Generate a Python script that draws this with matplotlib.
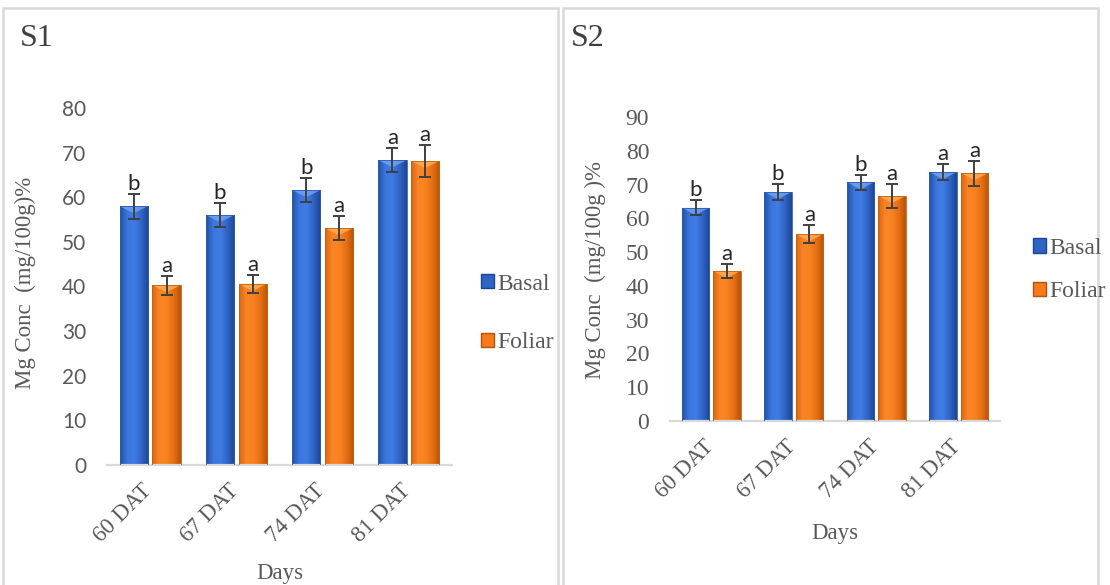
import numpy as np
import matplotlib
matplotlib.use("Agg")
import matplotlib.pyplot as plt
from matplotlib.patches import Rectangle, Patch, Polygon
from matplotlib.colors import LinearSegmentedColormap

# ---------------- data ----------------
categories = ["60 DAT", "67 DAT", "74 DAT", "81 DAT"]
series_names = ["Basal", "Foliar"]

s1_basal = [58.0, 56.0, 61.6, 68.3]
s1_foliar = [40.3, 40.6, 53.1, 68.1]
s1_basal_err = [2.8, 2.7, 2.7, 2.7]
s1_foliar_err = [2.1, 2.0, 2.6, 3.5]
s1_basal_letters = ["b", "b", "b", "a"]
s1_foliar_letters = ["a", "a", "a", "a"]
s1_yticks = [0, 10, 20, 30, 40, 50, 60, 70, 80]

s2_basal = [63.1, 67.8, 70.7, 73.7]
s2_foliar = [44.4, 55.3, 66.6, 73.4]
s2_basal_err = [2.2, 2.3, 2.2, 2.3]
s2_foliar_err = [2.2, 2.7, 3.5, 3.7]
s2_basal_letters = ["b", "b", "b", "a"]
s2_foliar_letters = ["a", "a", "a", "a"]
s2_yticks = [0, 10, 20, 30, 40, 50, 60, 70, 80, 90]

SERIF = "Liberation Serif"
SANS = "Lato"
GREY = "#595959"

blue_cmap = LinearSegmentedColormap.from_list(
    "b", ["#23509f", "#3a76de", "#3f7ce4", "#2f63c4", "#1d4590"])
orange_cmap = LinearSegmentedColormap.from_list(
    "o", ["#d9650f", "#fb8526", "#f98220", "#e56f12", "#b4520b"])

W, H = 1110, 585
fig = plt.figure(figsize=(W / 100, H / 100), dpi=100)


def frame(x0, y0, x1, y1):
    fig.patches.append(Rectangle((x0 / W, 1 - y1 / H), (x1 - x0) / W, (y1 - y0) / H,
                                 transform=fig.transFigure, fill=False,
                                 edgecolor="#d9d9d9", linewidth=1.8))


frame(3, 8, 558, 592)
frame(563, 8, 1098, 592)


def style_bars(ax, bars, cmap, bevel_color, ax_h_px, yrange):
    grad = np.linspace(0, 1, 256).reshape(1, -1)
    depth = 7.0 * yrange / ax_h_px  # 7 px in data units
    for b in bars:
        x, y = b.get_x(), b.get_y()
        w, h = b.get_width(), b.get_height()
        im = ax.imshow(grad, cmap=cmap, aspect="auto",
                       extent=(x, x + w, y, y + h), zorder=2,
                       interpolation="bicubic")
        im.set_clip_path(b)
        b.set_facecolor("none")
        b.set_zorder(3)
        top = y + h
        ax.add_patch(Polygon([(x, top), (x + w, top), (x + w / 2, top - depth)],
                             closed=True, facecolor=bevel_color,
                             edgecolor="none", alpha=0.75, zorder=2.5))


def draw_panel(ax, ax_h_px, basal, foliar, berr, ferr, bl, fl, yticks,
               tickfont, tick_size, title, ylabel, ylabel_xy, xlabel_xy,
               leg_anchor, leg_spacing, title_xy):
    x = np.arange(len(categories))
    off, w = 0.19, 0.33
    bb = ax.bar(x - off, basal, w, color="#3a76de", edgecolor="#2a5cb8",
                linewidth=0.6, zorder=2)
    fb = ax.bar(x + off, foliar, w, color="#f98220", edgecolor="#c9600e",
                linewidth=0.6, zorder=2)
    yr = yticks[-1] - yticks[0]
    style_bars(ax, bb, blue_cmap, "#7aa8f2", ax_h_px, yr)
    style_bars(ax, fb, orange_cmap, "#ffb45c", ax_h_px, yr)
    ax.errorbar(x - off, basal, yerr=berr, fmt="none", ecolor="#404040",
                elinewidth=1.4, capsize=4.5, capthick=1.4, zorder=4)
    ax.errorbar(x + off, foliar, yerr=ferr, fmt="none", ecolor="#404040",
                elinewidth=1.4, capsize=4.5, capthick=1.4, zorder=4)
    for xs, vals, errs, labs in ((x - off, basal, berr, bl),
                                 (x + off, foliar, ferr, fl)):
        for xi, v, e, t in zip(xs, vals, errs, labs):
            ax.annotate(t, (xi, v + e), xytext=(0, 0), textcoords="offset points",
                        ha="center", va="bottom", fontsize=16, family=SANS,
                        color="#262626")
    ax.set_xlim(-0.5, len(categories) - 0.5)
    ax.set_ylim(yticks[0], yticks[-1])
    ax.set_yticks(yticks)
    ax.set_yticklabels([str(t) for t in yticks], family=tickfont,
                       fontsize=tick_size, color=GREY)
    ax.set_xticks(x)
    ax.set_xticklabels([""] * len(categories))
    for xi, cat in zip(x, categories):
        ax.annotate(cat, (xi, 0), xycoords=("data", "axes fraction"),
                    xytext=(-6, -11), textcoords="offset points",
                    rotation=45, ha="right", va="top", rotation_mode="anchor",
                    family=SERIF, fontsize=16.5, color=GREY,
                    annotation_clip=False)
    ax.tick_params(axis="y", length=0, pad=15)
    ax.tick_params(axis="x", length=0)
    for s in ["top", "right", "left"]:
        ax.spines[s].set_visible(False)
    ax.spines["bottom"].set_color("#d9d9d9")
    ax.spines["bottom"].set_linewidth(1.6)
    handles = [Patch(facecolor="#2f63c4", edgecolor="#1d4590"),
               Patch(facecolor="#f47a1a", edgecolor="#b4520b")]
    fig.legend(handles, series_names, loc="center left",
               bbox_to_anchor=leg_anchor, frameon=False,
               prop={"family": SERIF, "size": 17}, labelcolor=GREY,
               handlelength=0.55, handleheight=0.55, handletextpad=0.17,
               labelspacing=leg_spacing, borderpad=0)
    fig.text(title_xy[0] / W, 1 - title_xy[1] / H, title, family=SERIF,
             fontsize=23, color="#404040", ha="left", va="center")
    fig.text(xlabel_xy[0] / W, 1 - xlabel_xy[1] / H, "Days", family=SERIF,
             fontsize=16.5, color=GREY, ha="center", va="center")
    fig.text(ylabel_xy[0] / W, 1 - ylabel_xy[1] / H, ylabel, family=SERIF,
             fontsize=16.5, color=GREY, ha="center", va="center", rotation=90)


ax1 = fig.add_axes([107 / W, 1 - 465 / H, 345 / W, 357 / H])
ax2 = fig.add_axes([670 / W, 1 - 421 / H, 330 / W, 304 / H])

draw_panel(ax1, 357, s1_basal, s1_foliar, s1_basal_err, s1_foliar_err,
           s1_basal_letters, s1_foliar_letters, s1_yticks, SANS, 15,
           "S1", "Mg Conc  (mg/100g)%", (25, 283), (280, 573),
           (469 / W, 1 - 313.5 / H), 1.6, (20, 38))
draw_panel(ax2, 304, s2_basal, s2_foliar, s2_basal_err, s2_foliar_err,
           s2_basal_letters, s2_foliar_letters, s2_yticks, SERIF, 17,
           "S2", "Mg Conc  (mg/100g )%", (595, 270), (835, 533),
           (1021 / W, 1 - 270 / H), 0.95, (571, 38))

fig.savefig("out.png", dpi=100)
